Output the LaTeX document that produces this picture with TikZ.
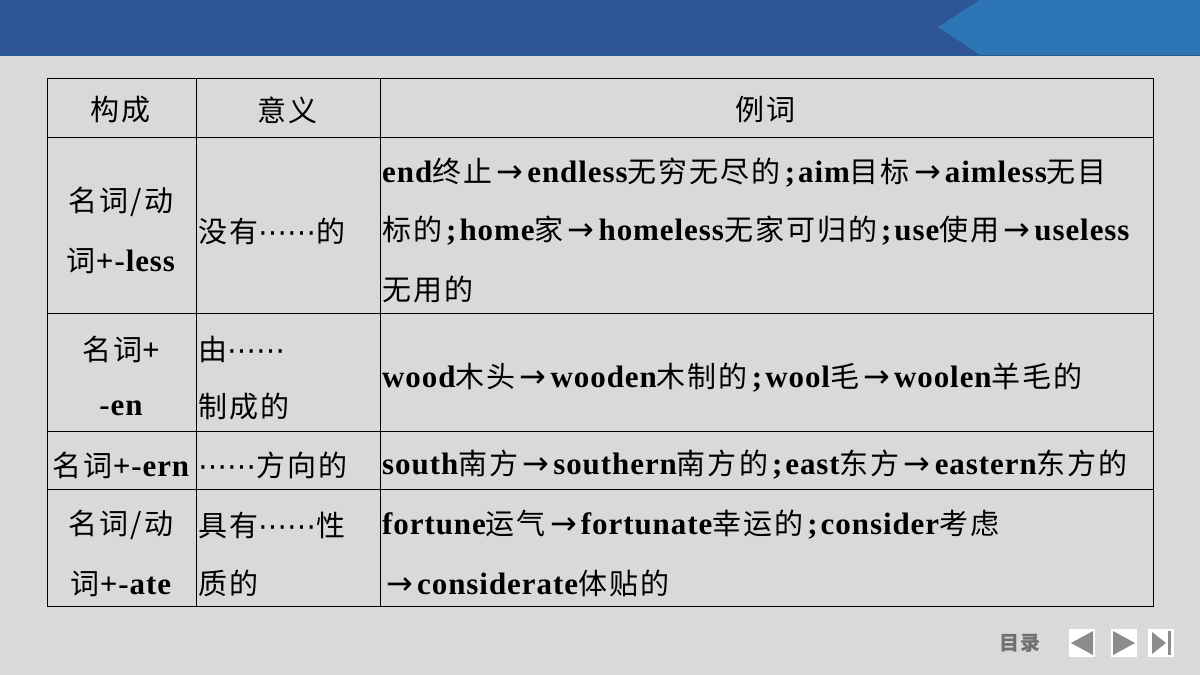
\documentclass[tikz,border=0pt]{standalone}
\usepackage{fontspec}
\setmainfont{Liberation Serif}[LetterSpace=3]
\newfontfamily\cjk{Noto Sans CJK SC}[LetterSpace=7]
\newfontfamily\symf{DejaVu Sans}
\newcommand{\zh}[1]{{\cjk\mdseries\fontsize{29}{30}\selectfont #1}}
\newcommand{\ra}{\makebox[35pt]{\mdseries\symf\fontsize{32}{32}\selectfont →}}
\newcommand{\dd}{{\mdseries\symf\fontsize{29}{30}\selectfont ⋯⋯}}
\newcommand{\sm}{\hspace{4pt};\hspace{3pt}}
\usetikzlibrary{positioning}
\definecolor{bardark}{HTML}{2E5597}
\definecolor{barlight}{HTML}{2E75B6}
\definecolor{pagegray}{HTML}{D9D9D9}
\definecolor{navgray}{HTML}{8C8C8C}
\begin{document}
\begin{tikzpicture}[x=1pt,y=-1pt]
  \tikzstyle{every node}=[inner sep=0pt,font=\fontsize{31}{32}\selectfont\bfseries]
  \tikzstyle{cell}=[anchor=west]
  \tikzstyle{mid}=[anchor=center]
  \tikzstyle{navbox}=[fill=white,minimum width=26pt,minimum height=28pt]
  % background and top bar
  \fill[pagegray] (0,0) rectangle (1200,675);
  \useasboundingbox (0,0) rectangle (1200,675);
  \fill[bardark] (0,0) rectangle (1200,55);
  \fill[barlight] (980,0) -- (1200,0) -- (1200,55) -- (980,55) -- (938,27) -- cycle;
  \draw[barlight!80!black,line width=1pt] (0,55) -- (1200,55);
  % table
  \draw[line width=1pt] (47,78) rectangle (1153,606);
  \foreach \y in {137,313,431,489} \draw[line width=1pt] (47,\y) -- (1153,\y);
  \foreach \x in {196,380} \draw[line width=1pt] (\x,78) -- (\x,606);
  % header
  \node[mid] (h1) at (121,110) {\zh{构成}};
  \node[mid] (h2) at (288,110) {\zh{意义}};
  \node[mid] (h3) at (766,110) {\zh{例词}};
  % row 1
  \node[mid] (a1) at (121,202) {\zh{名词/动}};
  \node[mid] (a2) at (121,261) {\zh{词}+-less};
  \node[cell] (b1) at (198,231) {\zh{没有}\dd\zh{的}};
  \node[cell] (c1) at (382,173) {end\zh{终止}\ra endless\zh{无穷无尽的}\sm aim\zh{目标}\ra aimless\zh{无目}};
  \node[cell] (c2) at (382,231) {\zh{标的}\sm home\zh{家}\ra homeless\zh{无家可归的}\sm use\zh{使用}\ra useless};
  \node[cell] (c3) at (382,289) {\zh{无用的}};
  % row 2
  \node[mid] (a3) at (121,349) {\zh{名词}+};
  \node[mid] (a4) at (121,408) {-en};
  \node[cell] (b2) at (198,349) {\zh{由}\dd};
  \node[cell] (b3) at (198,407) {\zh{制成的}};
  \node[cell] (c4) at (382,378) {wood\zh{木头}\ra wooden\zh{木制的}\sm wool\zh{毛}\ra woolen\zh{羊毛的}};
  % row 3
  \node[mid] (a5) at (121,465) {\zh{名词}+-ern};
  \node[cell] (b4) at (198,465) {\dd\zh{方向的}};
  \node[cell] (c5) at (382,465) {south\zh{南方}\ra southern\zh{南方的}\sm east\zh{东方}\ra eastern\zh{东方的}};
  % row 4
  \node[mid] (a6) at (121,525) {\zh{名词/动}};
  \node[mid] (a7) at (121,584) {\zh{词}+-ate};
  \node[cell] (b5) at (198,525) {\zh{具有}\dd\zh{性}};
  \node[cell] (b6) at (198,583) {\zh{质的}};
  \node[cell] (c6) at (382,525) {fortune\zh{运气}\ra fortunate\zh{幸运的}\sm consider\zh{考虑}};
  \node[cell] (c7) at (382,583) {\ra considerate\zh{体贴的}};
  % navigation
  \node[font=\fontsize{20}{22}\selectfont,text=navgray!80!black] (menu) at (1020,643) {\cjk\bfseries 目录};
  \node[navbox] (prev) at (1082,643) {};
  \node[navbox] (next) at (1124,643) {};
  \node[navbox] (last) at (1161,643) {};
  \fill[navgray] (1071,643) -- (1093,631) -- (1093,655) -- cycle;
  \fill[navgray] (1135,643) -- (1113,631) -- (1113,655) -- cycle;
  \fill[navgray] (1152,632) -- (1166,643) -- (1152,654) -- cycle;
  \fill[navgray] (1168,631) rectangle (1171,655);
\end{tikzpicture}
\end{document}
